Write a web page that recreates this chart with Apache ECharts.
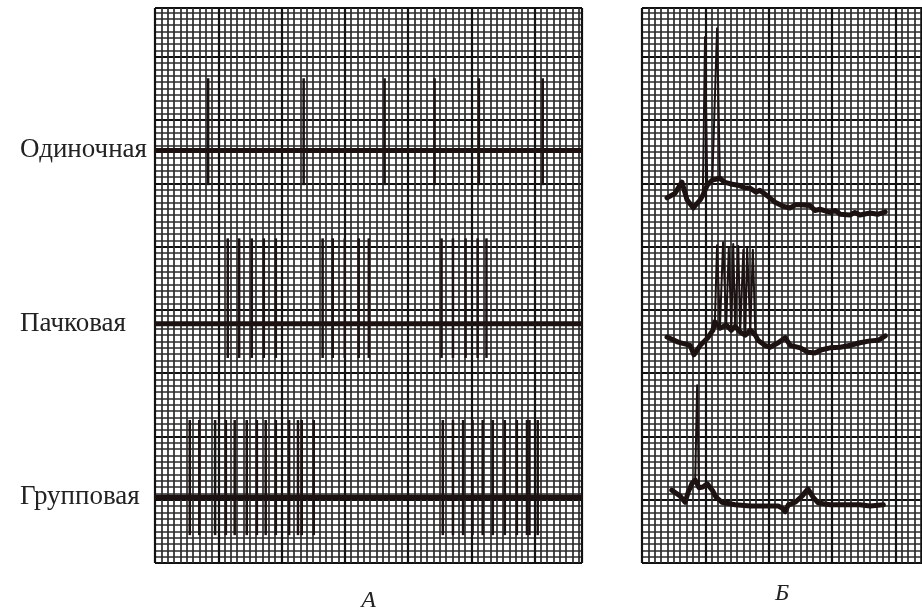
<!DOCTYPE html>
<html>
<head>
<meta charset="utf-8">
<script src="https://cdn.jsdelivr.net/npm/echarts@6/dist/echarts.min.js"></script>
<style>
  html, body { margin: 0; padding: 0; background: #fff; }
  #main { width: 922px; height: 609px; }
</style>
</head>
<body>
<div id="main"></div>
<script>
// единица = одна мелкая клетка миллиметровки

// подписи рядов
var rowNames = ['Одиночная', 'Пачковая', 'Групповая'];
var panelNames = ['А', 'Б'];

// A: уровень базовой линии и размах спайков для каждого ряда
var baseLevels = [65.2, 37.8, 10.4];
var spikeLow = [59.7, 32.4, 4.4];
var spikeHigh = [76.6, 51.3, 22.6];

// A: моменты спайков
var singleSpikes = [8.4, 23.5, 36.3, 44.2, 51.2, 61.3];
var burstSpikes = [11.5, 13.3, 15.3, 17.2, 19.1, 26.5, 28.1, 30.0, 32.2, 33.8,
    45.3, 47.1, 49.1, 51.0, 52.4];
var groupSpikes = [5.5, 7.0, 9.5, 11.2, 12.6, 14.5, 16.1, 17.5, 19.1, 21.2, 22.6, 23.2, 25.1,
    45.5, 47.1, 48.7, 50.2, 51.8, 53.4, 55.3, 57.2, 58.8, 59.2, 60.5];

// Б: внутриклеточные записи
var traceSingle = [[3.95,57.7],[5.2,58.4],[6.3,60.2],[7.1,57.4],[8.1,56.1],[9.2,57.4],[9.6,58.1],
    [9.95,83.1],[10.3,59.7],[11.1,60.5],[11.85,84.5],[12.3,60.8],[13.0,60.2],[14.0,59.9],
    [15.2,59.7],[16.2,59.3],[17.1,59.2],[18.0,58.6],[18.6,58.9],[19.8,58.0],[21.0,57.0],
    [22.2,56.4],[23.4,56.1],[24.2,56.6],[25.0,56.6],[26.5,56.5],[27.3,55.7],[28.1,55.9],
    [29.7,55.4],[30.5,55.7],[31.3,55.1],[32.9,55.0],[33.6,55.4],[34.4,55.0],[36.0,55.3],
    [37.2,55.1],[38.4,55.5]];
var traceBurst = [[3.95,35.7],[5.7,34.9],[7.6,34.4],[8.2,32.9],[9.2,34.4],[10.4,35.6],[11.2,36.8],
    [11.5,38.1],[11.85,50.2],[12.3,37.1],[12.8,50.7],[13.3,37.6],[13.7,49.9],[14.1,36.8],
    [14.4,50.4],[14.7,37.4],[15.2,50.1],[15.5,36.5],[16.0,49.5],[16.3,36.0],[16.6,49.8],
    [17.1,36.8],[17.5,49.5],[17.9,36.0],[18.3,35.2],[19.4,34.4],[20.2,34.1],[21.5,34.8],
    [22.6,35.6],[23.4,34.4],[25.0,34.0],[26.2,33.3],[27.3,33.2],[28.4,33.7],[29.7,34.0],
    [31.3,34.1],[32.9,34.4],[34.4,34.8],[36.0,35.1],[37.3,35.2],[38.4,35.9]];
var traceGroup = [[4.7,11.5],[6.0,10.6],[6.8,9.6],[7.3,11.2],[7.9,12.6],[8.4,13.1],[8.7,28.1],
    [9.0,11.9],[9.6,12.0],[10.3,12.5],[11.1,11.5],[11.7,10.4],[12.6,9.6],[14.7,9.2],[17.1,9.0],
    [19.4,9.0],[21.5,9.0],[22.1,8.7],[22.6,8.1],[23.1,9.2],[24.2,9.6],[25.3,10.6],[26.2,11.7],
    [27.0,10.4],[27.8,9.5],[29.7,9.2],[32.1,9.2],[34.4,9.2],[36.0,9.0],[38.1,9.2]];
// выше этого уровня - вершины спайков (рисуются тонко)
var peakLevels = [70, 45, 20];

var ink = '#1c1212';
var serif = '"Liberation Serif", "DejaVu Serif", serif';

function paperAxis(gridIndex, max, interval, lineColor, lineWidth, position, name, gap) {
    return {
        type: 'value', gridIndex: gridIndex, min: 0, max: max, interval: interval,
        position: position,
        name: name || '', nameLocation: 'middle', nameGap: gap || 26,
        nameTextStyle: { fontFamily: serif, fontStyle: 'italic', fontSize: 24, color: '#222' },
        axisLine: { show: false }, axisTick: { show: false }, axisLabel: { show: false },
        splitLine: { show: true, lineStyle: { color: lineColor, width: lineWidth } }
    };
}

function spikeSeries(times, row) {
    return {
        type: 'custom', xAxisIndex: 1, yAxisIndex: 1, z: 3,
        data: times.map(function (t) { return [t, spikeLow[row], spikeHigh[row]]; }),
        encode: { x: 0, y: [1, 2] },
        renderItem: function (params, api) {
            var a = api.coord([api.value(0), api.value(1)]);
            var b = api.coord([api.value(0), api.value(2)]);
            return {
                type: 'line',
                shape: { x1: a[0], y1: a[1], x2: b[0], y2: b[1] },
                style: { stroke: ink, lineWidth: 2.5 }
            };
        }
    };
}

function baseSeries(row) {
    return {
        type: 'line', xAxisIndex: 1, yAxisIndex: 1, z: 4,
        symbol: 'circle', symbolSize: 0, silent: true,
        lineStyle: { color: ink, width: 5 },
        data: [
            { value: [0, baseLevels[row]],
              label: { show: true, position: 'left', distance: 0, align: 'left', offset: [-135, 0],
                       formatter: rowNames[row], fontFamily: serif, fontSize: 27, color: '#222' } },
            [67.5, baseLevels[row]]
        ]
    };
}

// тонкая линия - вся запись, толстая - медленная часть без вершин спайков
function traceSeries(data, row) {
    return [{
        type: 'line', xAxisIndex: 3, yAxisIndex: 3, z: 4,
        symbol: 'none', silent: true,
        lineStyle: { color: ink, width: 2, join: 'round' },
        data: data
    }, {
        type: 'line', xAxisIndex: 3, yAxisIndex: 3, z: 5,
        symbol: 'none', silent: true,
        lineStyle: { color: ink, width: 5, join: 'round', cap: 'round' },
        data: data.filter(function (p) { return p[1] < peakLevels[row]; })
    }];
}

var myChart = echarts.init(document.getElementById('main'));

var option = {
    backgroundColor: '#ffffff',
    animation: false,
    grid: [
        { left: 155, top: 8, width: 427, height: 555, outerBoundsMode: 'none', containLabel: false },
        { left: 642, top: 8, width: 280, height: 555, outerBoundsMode: 'none', containLabel: false }
    ],
    xAxis: [
        paperAxis(0, 67.5, 1, '#2b2b2b', 1.7, 'top'),
        paperAxis(0, 67.5, 10, '#111', 2.2, 'bottom', panelNames[0], 26),
        paperAxis(1, 44.2, 1, '#2b2b2b', 1.7, 'top'),
        paperAxis(1, 44.2, 10, '#111', 2.2, 'bottom', panelNames[1], 19)
    ],
    yAxis: [
        paperAxis(0, 87.7, 1, '#2b2b2b', 1.7, 'right'),
        paperAxis(0, 87.7, 10, '#111', 2.2, 'left'),
        paperAxis(1, 87.7, 1, '#2b2b2b', 1.7, 'right'),
        paperAxis(1, 87.7, 10, '#111', 2.2, 'left')
    ],
    series: [
        baseSeries(0), baseSeries(1), baseSeries(2),
        spikeSeries(singleSpikes, 0),
        spikeSeries(burstSpikes, 1),
        spikeSeries(groupSpikes, 2)
    ].concat(traceSeries(traceSingle, 0), traceSeries(traceBurst, 1), traceSeries(traceGroup, 2))
};

myChart.setOption(option);
</script>
</body>
</html>
